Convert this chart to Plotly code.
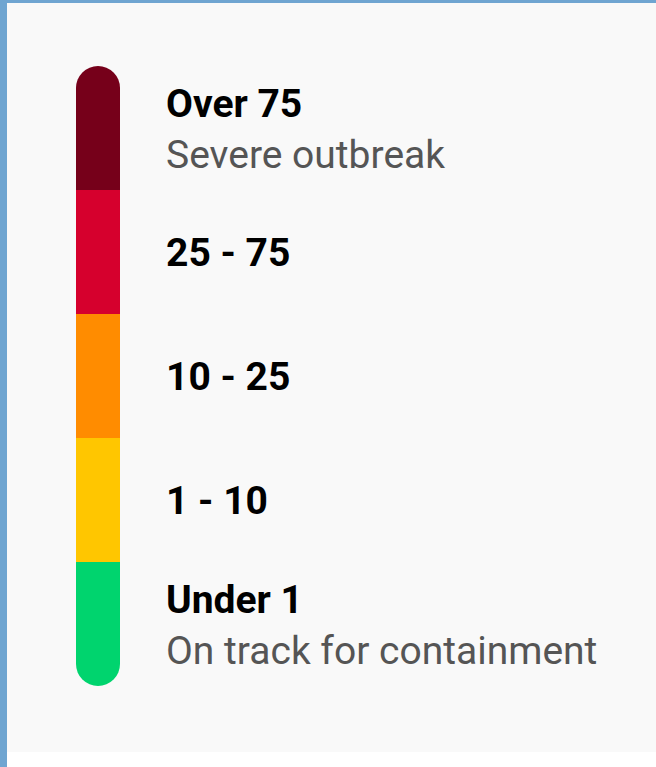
import plotly.graph_objects as go

# Legend data (bottom to top)
titles = ["Under 1", "1 - 10", "10 - 25", "25 - 75", "Over 75"]
subtitles = ["On track for containment", "", "", "", "Severe outbreak"]
colors = ["#00d46e", "#ffc600", "#ff8c00", "#d6002d", "#76001a"]

W, H = 656, 767
BAR_CX = 98          # pixel centre of the bar
BAR_W = 44
BAND_PX = 124
BOTTOM_PX = 686      # pixel y of band 0 bottom
TEXT_X = 166
FS = 39

fig = go.Figure()
n = len(titles)
# stack: band 0 drawn as a negative bar below zero, the rest stacked above zero
for i, (t, c) in enumerate(zip(titles, colors)):
    val = -1 if i == 0 else 1
    fig.add_trace(go.Bar(
        x=[0], y=[val], width=[BAR_W],
        marker=dict(color=c, line=dict(width=0)),
        hoverinfo="skip", showlegend=False,
    ))

OFF = 25.5 / BAND_PX
SHIFT = -4.5 / BAND_PX
ty, sy, st = [], [], []
for i, (t, s) in enumerate(zip(titles, subtitles)):
    centre = i - 0.5 + SHIFT
    if s:
        ty.append(centre + OFF)
        sy.append(centre - OFF)
        st.append(s)
    else:
        ty.append(centre)

fig.add_trace(go.Scatter(
    x=[TEXT_X - BAR_CX] * n, y=ty, mode="text", text=[f"<b>{t}</b>" for t in titles],
    textposition="middle right",
    textfont=dict(family="Roboto", size=FS, color="#000000"),
    hoverinfo="skip", showlegend=False,
))
fig.add_trace(go.Scatter(
    x=[TEXT_X - BAR_CX] * len(st), y=sy, mode="text", text=st,
    textposition="middle right",
    textfont=dict(family="Roboto", size=FS, color="#555555"),
    hoverinfo="skip", showlegend=False,
))

fig.update_layout(
    width=W, height=H,
    margin=dict(l=0, r=0, t=0, b=0),
    paper_bgcolor="#f9f9f9", plot_bgcolor="rgba(0,0,0,0)",
    barmode="relative", barcornerradius=BAR_W / 2,
    xaxis=dict(range=[-BAR_CX, W - BAR_CX], visible=False, fixedrange=True),
    yaxis=dict(range=[(BOTTOM_PX - H) / BAND_PX - 1, BOTTOM_PX / BAND_PX - 1],
               visible=False, fixedrange=True),
    shapes=[
        dict(type="rect", xref="paper", yref="paper", x0=0, x1=1, y0=0, y1=15 / H,
             fillcolor="#ffffff", line=dict(width=0), layer="below"),
        dict(type="rect", xref="paper", yref="paper", x0=0, x1=7 / W, y0=0, y1=1,
             fillcolor="#6fa5d1", line=dict(width=0)),
        dict(type="rect", xref="paper", yref="paper", x0=0, x1=1, y0=1 - 3 / H, y1=1,
             fillcolor="#6fa5d1", line=dict(width=0)),
    ],
)

fig.write_html("out.html", config={"displayModeBar": False},
               post_script="document.body.style.margin='0px';document.body.style.overflow='hidden';")
